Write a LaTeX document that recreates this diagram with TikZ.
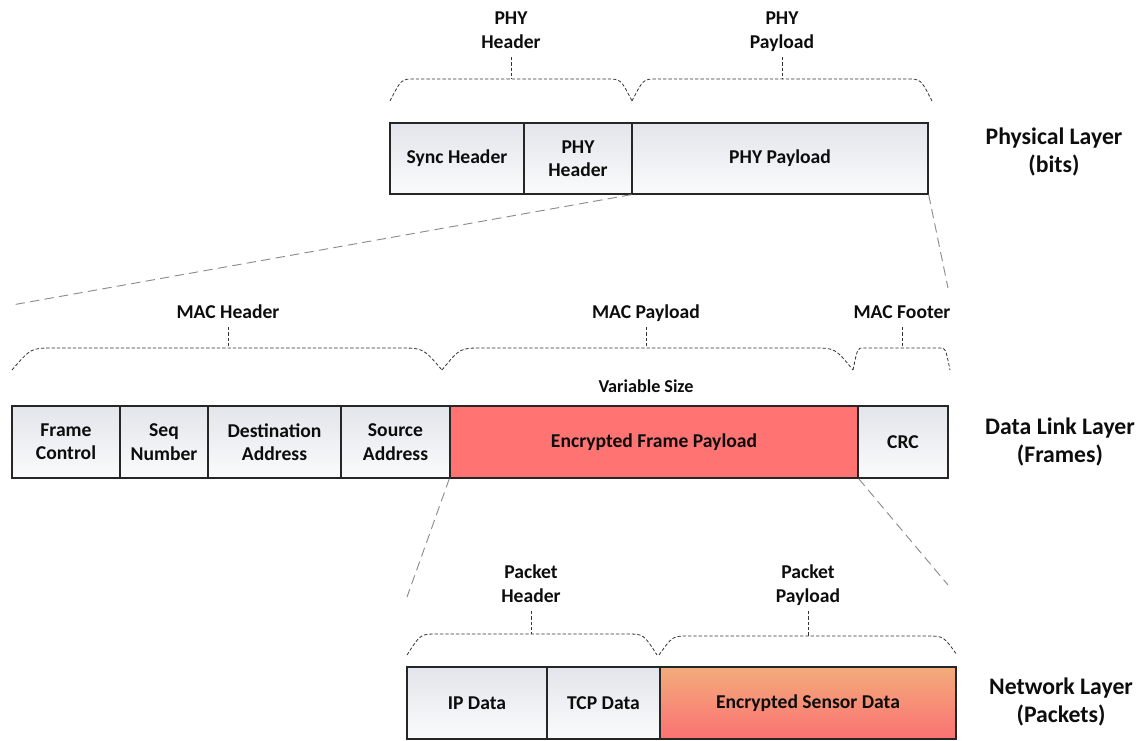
\documentclass[tikz,border=0pt]{standalone}
\usepackage{fontspec}
\setmainfont{Carlito}
\usepackage{tikz}
\usetikzlibrary{calc}
\definecolor{cellTop}{HTML}{E2E5EA}
\definecolor{cellBot}{HTML}{FAFBFC}
\definecolor{encRed}{HTML}{FF7373}
\definecolor{sensTop}{HTML}{F2AC7B}
\definecolor{sensBot}{HTML}{FB7272}
\definecolor{zoomGray}{HTML}{8C8C8C}
\tikzset{box/.style={draw=black!85,line width=1pt,inner sep=0pt,align=center,text=black!95,font=\bfseries\fontsize{14.7}{17.5}\selectfont}}
\tikzset{gray cell/.style={box,top color=cellTop,bottom color=cellBot}}
\tikzset{red cell/.style={box,fill=encRed}}
\tikzset{orange cell/.style={box,top color=sensTop,bottom color=sensBot}}
\tikzset{cell size/.style 2 args={minimum width=#1*0.75pt,minimum height=#2*0.75pt}}
\tikzset{field label/.style={align=center,inner sep=4pt,text depth=0.25em,text=black!95,font=\bfseries\fontsize{14.7}{17.5}\selectfont}}
\tikzset{layer label/.style={align=center,text=black!95,font=\bfseries\fontsize{17.8}{21}\selectfont}}
\tikzset{brace line/.style={draw=black!80,line width=0.6pt,dash pattern=on 2.5pt off 1.5pt}}
\tikzset{zoom line/.style={draw=zoomGray,line width=0.7pt,dash pattern=on 7pt off 4pt}}
% 左端, 右端, 下のy, 上のy, 曲がりの幅
\newcommand{\layerbrace}[5]{%
  \draw[brace line] (#1,#3) .. controls (#1+0.45*#5,#4) .. (#1+#5,#4) -- (#2-#5,#4) .. controls (#2-0.45*#5,#4) .. (#2,#3);}

\begin{document}
\begin{tikzpicture}[x=0.75pt,y=-0.75pt]
          \useasboundingbox (0,0) rectangle (1142,740);

          %物理層
          \node[gray cell, cell size={134}{71}] (sync) at (457,158.5) {Sync Header};
          \node[gray cell, cell size={108}{71}] (phyhdr) at (578,158.5) {PHY\\Header};
          \node[gray cell, cell size={296}{71}] (phypay) at (780,158.5) {PHY Payload};
          \node[layer label] (phylayer) at (1054,152) {Physical Layer\\(bits)};

          %物理層の括弧
          \layerbrace{390}{632}{101}{79}{25}
          \layerbrace{632}{932}{101}{79}{25}
          \coordinate (phyhdrtip) at (511,79);
          \coordinate (phypaytip) at (782,79);
          \node[field label, anchor=south] (phyhdrlbl) at (511,57) {PHY\\Header};
          \node[field label, anchor=south] (phypaylbl) at (782,57) {PHY\\Payload};
          \draw[brace line] (phyhdrlbl.south) -- (phyhdrtip);
          \draw[brace line] (phypaylbl.south) -- (phypaytip);

          %データリンク層
          \node[gray cell, cell size={108}{72}] (fc) at (66,442) {Frame\\Control};
          \node[gray cell, cell size={88}{72}] (seq) at (164,442) {Seq\\Number};
          \node[gray cell, cell size={133}{72}] (dst) at (274.5,442) {Destination\\Address};
          \node[gray cell, cell size={109}{72}] (src) at (395.5,442) {Source\\Address};
          \node[red cell, cell size={408}{72}] (efp) at (654,442) {Encrypted Frame Payload};
          \node[gray cell, cell size={90}{72}] (crc) at (903,442) {CRC};
          \node[layer label] (dllayer) at (1060,442) {Data Link Layer\\(Frames)};
          \node[field label, font=\bfseries\fontsize{13.6}{16}\selectfont] (varsize) at (646,388) {Variable Size};

          %データリンク層の括弧
          \layerbrace{12}{442}{370}{348}{42}
          \layerbrace{442}{853}{370}{348}{40}
          \layerbrace{853}{950}{370}{348}{10}
          \coordinate (machdrtip) at (228,348);
          \coordinate (macpaytip) at (646,348);
          \coordinate (macfoottip) at (902,348);
          \node[field label, anchor=south] (machdrlbl) at (228,327) {MAC Header};
          \node[field label, anchor=south] (macpaylbl) at (646,327) {MAC Payload};
          \node[field label, anchor=south] (macfootlbl) at (902,327) {MAC Footer};
          \draw[brace line] (machdrlbl.south) -- (machdrtip);
          \draw[brace line] (macpaylbl.south) -- (macpaytip);
          \draw[brace line] (macfootlbl.south) -- (macfoottip);

          %ネットワーク層
          \node[gray cell, cell size={140}{72}] (ip) at (477,703) {IP Data};
          \node[gray cell, cell size={113}{72}] (tcp) at (603.5,703) {TCP Data};
          \node[orange cell, cell size={296}{72}] (esd) at (808,703) {Encrypted Sensor Data};
          \node[layer label] (netlayer) at (1061,702) {Network Layer\\(Packets)};

          %ネットワーク層の括弧
          \layerbrace{407}{657}{655}{634}{30}
          \layerbrace{659}{957}{655}{636}{30}
          \coordinate (pkthdrtip) at (531,634);
          \coordinate (pktpaytip) at (808,636);
          \node[field label, anchor=south] (pkthdrlbl) at (531,611) {Packet\\Header};
          \node[field label, anchor=south] (pktpaylbl) at (808,611) {Packet\\Payload};
          \draw[brace line] (pkthdrlbl.south) -- (pkthdrtip);
          \draw[brace line] (pktpaylbl.south) -- (pktpaytip);

          %拡大の線
          \coordinate (phyzoomL) at (12,305);
          \coordinate (phyzoomR) at (948,288);
          \coordinate (netzoomL) at (407,597);
          \coordinate (netzoomR) at (948,585);
          \draw[zoom line] (phypay.south west) -- (phyzoomL);
          \draw[zoom line] (phypay.south east) -- (phyzoomR);
          \draw[zoom line] (efp.south west) -- (netzoomL);
          \draw[zoom line] (efp.south east) -- (netzoomR);

        \end{tikzpicture}
\end{document}
